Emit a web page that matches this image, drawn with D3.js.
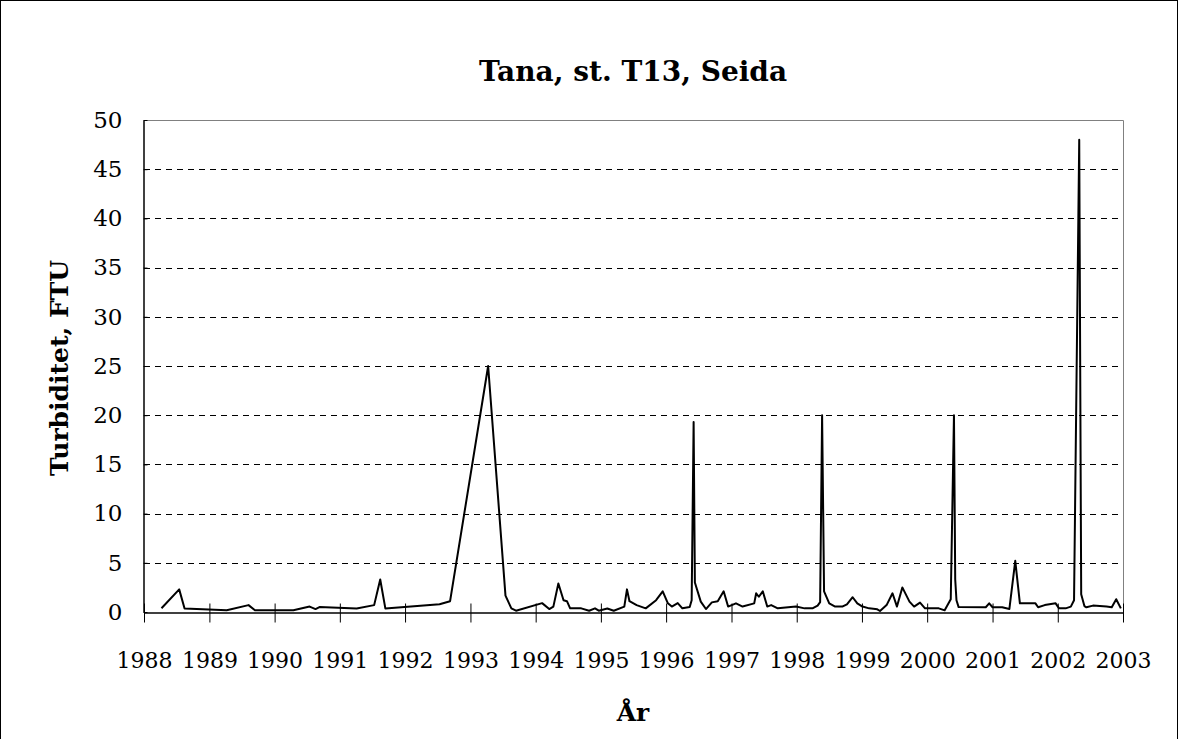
<!DOCTYPE html>
<html>
<head>
<meta charset="utf-8">
<script src="https://cdn.jsdelivr.net/npm/d3@7"></script>
<style>
  body { margin: 0; background: #fff; }
  svg { display: block; }
  svg text { font-family: "DejaVu Serif", serif !important; fill: #000; }
</style>
</head>
<body>
<div id="chart"></div>
<script>
// turbiditet, Tana st. T13 Seida
const title = 'Tana, st. T13, Seida';
const yTitle = 'Turbiditet, FTU';
const xTitle = 'År';
const yTicks = [0, 5, 10, 15, 20, 25, 30, 35, 40, 45, 50];
const xYears = [1988, 1989, 1990, 1991, 1992, 1993, 1994, 1995, 1996, 1997, 1998, 1999, 2000, 2001, 2002, 2003];

// prøvedato
const dates = [
	'1988-04-08', '1988-07-16', '1988-08-15', '1989-04-08', '1989-08-08', '1989-09-13',
	'1990-04-16', '1990-07-16', '1990-08-18', '1990-09-09', '1991-04-05', '1991-07-12',
	'1991-08-15', '1991-09-13', '1992-07-12', '1992-09-09', '1993-04-10', '1993-07-16',
	'1993-08-18', '1993-09-13', '1994-02-06', '1994-03-18', '1994-04-10', '1994-05-08',
	'1994-06-06', '1994-06-25', '1994-07-13', '1994-09-13', '1994-10-27', '1994-11-29',
	'1994-12-20', '1995-02-06', '1995-03-14', '1995-05-12', '1995-05-27', '1995-06-10',
	'1995-07-20', '1995-09-09', '1995-11-06', '1995-12-13', '1996-01-11', '1996-02-02',
	'1996-03-06', '1996-04-01', '1996-05-12', '1996-05-23', '1996-06-03', '1996-06-10',
	'1996-07-13', '1996-08-11', '1996-09-13', '1996-10-16', '1996-11-18', '1996-12-13',
	'1997-01-26', '1997-03-04', '1997-05-08', '1997-05-19', '1997-06-03', '1997-06-25',
	'1997-07-20', '1997-08-11', '1997-09-17', '1997-12-28', '1998-02-14', '1998-03-30',
	'1998-04-28', '1998-05-12', '1998-05-23', '1998-06-03', '1998-07-02', '1998-08-04',
	'1998-09-13', '1998-10-09', '1998-11-10', '1998-12-06', '1999-01-04', '1999-02-10',
	'1999-03-28', '1999-04-12', '1999-05-19', '1999-06-21', '1999-07-16', '1999-08-15',
	'1999-09-24', '1999-10-20', '1999-11-22', '1999-12-20', '2000-03-06', '2000-04-08',
	'2000-05-12', '2000-05-30', '2000-06-06', '2000-06-13', '2000-06-25', '2000-11-24',
	'2000-12-13', '2001-01-01', '2001-02-24', '2001-04-05', '2001-05-08', '2001-06-03',
	'2001-08-29', '2001-09-13', '2001-10-20', '2001-12-20', '2002-01-08', '2002-02-14',
	'2002-03-15', '2002-04-02', '2002-05-01', '2002-05-12', '2002-05-30', '2002-06-10',
	'2002-07-17', '2002-10-01', '2002-10-30', '2002-11-24', '2002-12-20'
];
const values = [
	0.38, 2.3, 0.35, 0.17, 0.7, 0.17,
	0.17, 0.55, 0.3, 0.5, 0.35, 0.7,
	3.3, 0.35, 0.78, 1.1, 25, 1.66,
	0.37, 0.13, 0.9, 0.3, 0.55, 2.9,
	1.2, 1.1, 0.37, 0.37, 0.13, 0.37,
	0.13, 0.35, 0.13, 0.55, 2.3, 1.1,
	0.7, 0.37, 1.2, 2.1, 0.88, 0.55,
	0.9, 0.37, 0.5, 1.2, 19.3, 3.0,
	1.05, 0.3, 0.98, 1.1, 2.1, 0.55,
	0.88, 0.55, 0.88, 1.9, 1.55, 2.1,
	0.55, 0.7, 0.37, 0.55, 0.37, 0.37,
	0.65, 1.0, 20, 2.1, 0.88, 0.55,
	0.55, 0.78, 1.5, 0.88, 0.55, 0.37,
	0.27, 0.1, 0.7, 1.9, 0.55, 2.5,
	1.05, 0.55, 0.95, 0.37, 0.37, 0.17,
	1.3, 20, 3.3, 1.2, 0.5, 0.48,
	0.88, 0.48, 0.48, 0.3, 5.2, 0.88,
	0.88, 0.48, 0.7, 0.88, 0.37, 0.37,
	0.55, 1.2, 48, 1.8, 0.6, 0.48,
	0.65, 0.55, 0.48, 1.3, 0.37
];

const W = 1179, H = 739;
const m = {left: 144, right: 56, top: 120, bottom: 127};
const parse = d3.timeParse('%Y-%m-%d');
const data = dates.map((d, i) => ({date: parse(d), v: values[i]}));

const svg = d3.select('#chart').append('svg')
	.attr('width', W)
	.attr('height', H);

// ytre ramme
svg.append('rect')
	.attr('x', 0.5).attr('y', 0.5)
	.attr('width', W - 2).attr('height', H + 20)
	.attr('fill', 'none').attr('stroke', '#000');

const x = d3.scaleTime()
	.domain([new Date(1988, 0, 1), new Date(2003, 0, 1)])
	.range([m.left, W - m.right]);
const y = d3.scaleLinear()
	.domain([0, 50])
	.range([H - m.bottom, m.top]);

// rutenett
svg.append('g').selectAll('line')
	.data(yTicks.filter(t => t > 0 && t < 50))
	.join('line')
	.attr('x1', m.left).attr('x2', W - m.right)
	.attr('y1', d => Math.round(y(d)) + 0.5).attr('y2', d => Math.round(y(d)) + 0.5)
	.attr('stroke', '#000')
	.attr('stroke-dasharray', '6,5');

// plott-ramme topp og høyre
svg.append('path')
	.attr('d', `M${m.left},${m.top + 0.5}H${W - m.right + 0.5}V${H - m.bottom}`)
	.attr('fill', 'none')
	.attr('stroke', '#808080');

// kurve
let line = d3.line()
	.x(d => x(d.date))
	.y(d => y(d.v));
svg.append('path')
	.datum(data)
	.attr('d', line)
	.attr('fill', 'none')
	.attr('stroke', '#000')
	.attr('stroke-width', 2)
	.attr('stroke-linejoin', 'round');

// x-akse
const xAxis = svg.append('g')
	.attr('transform', `translate(0,${Math.round(y(0)) + 0.5})`)
	.call(d3.axisBottom(x)
		.tickValues(xYears.map(yr => new Date(yr, 0, 1)))
		.tickFormat(d3.timeFormat('%Y'))
		.tickSizeInner(10)
		.tickSizeOuter(0)
		.tickPadding(30));
xAxis.attr('font-family', null);
xAxis.select('.domain').attr('stroke', '#000').attr('stroke-width', 1.5);
xAxis.selectAll('.tick line').attr('y1', -9).attr('stroke', '#000');
xAxis.selectAll('.tick text').attr('font-size', 22);

// y-akse
const yAxis = svg.append('g')
	.attr('transform', `translate(${m.left - 0.5},0)`)
	.call(d3.axisLeft(y)
		.tickValues(yTicks)
		.tickSizeInner(4)
		.tickSizeOuter(0)
		.tickPadding(17));
yAxis.attr('font-family', null);
yAxis.select('.domain').attr('stroke', '#000').attr('stroke-width', 1.5);
yAxis.selectAll('.tick line').attr('x2', 4).attr('stroke', '#000');
yAxis.selectAll('.tick text').attr('font-size', 23);

// titler
svg.append('text')
	.attr('x', 633).attr('y', 81)
	.attr('text-anchor', 'middle')
	.attr('font-size', 28)
	.attr('font-weight', 'bold')
	.text(title);

svg.append('text')
	.attr('transform', 'translate(68,368) rotate(-90)')
	.attr('text-anchor', 'middle')
	.attr('font-size', 25)
	.attr('font-weight', 'bold')
	.text(yTitle);

svg.append('text')
	.attr('x', 633).attr('y', 721)
	.attr('text-anchor', 'middle')
	.attr('font-size', 25)
	.attr('font-weight', 'bold')
	.text(xTitle);
</script>
</body>
</html>
